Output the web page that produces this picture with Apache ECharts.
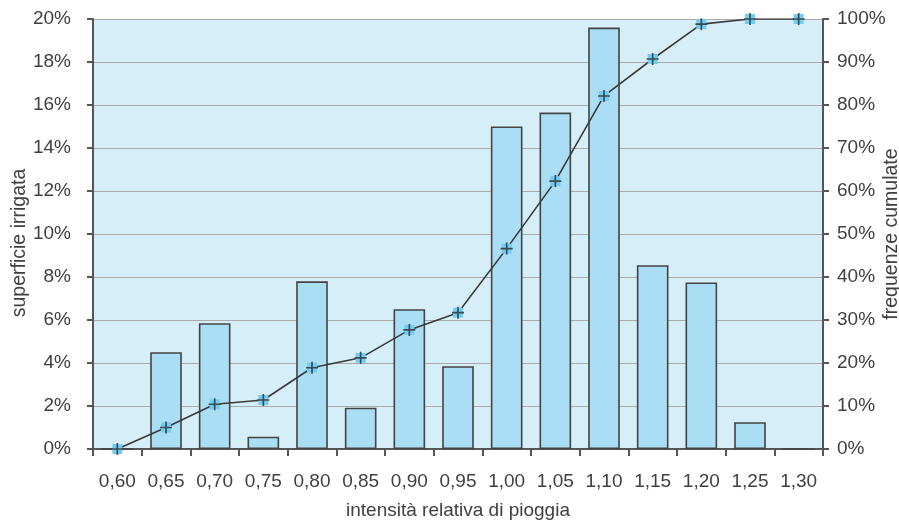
<!DOCTYPE html>
<html>
<head>
<meta charset="utf-8">
<script src="https://cdn.jsdelivr.net/npm/echarts@6/dist/echarts.min.js"></script>
<style>
  html, body { margin: 0; padding: 0; background: #ffffff; }
  #chart { width: 899px; height: 524px; }
</style>
</head>
<body>
<div id="chart"></div>
<script>
// Rainfall intensity classes (relative to mean)
const categories = ['0,60','0,65','0,70','0,75','0,80','0,85','0,90','0,95','1,00','1,05','1,10','1,15','1,20','1,25','1,30'];
// Share of irrigated surface per class (%)
const surfaceShare = [0, 4.5, 5.85, 0.57, 7.8, 1.92, 6.5, 3.85, 15.0, 15.65, 19.6, 8.55, 7.75, 1.25, 0];
// Cumulative frequency (%)
const cumulative = [0, 5.0, 10.4, 11.4, 18.9, 21.2, 27.7, 31.7, 46.6, 62.3, 82.1, 90.7, 98.8, 100, 100];

const FONT = 'Liberation Sans, Arial, Helvetica, sans-serif';
const TEXT = '#404040';
const AXIS = '#555555';
const plusPath = 'path://M4.3,0H5.7V4.3H10V5.7H5.7V10H4.3V5.7H0V4.3H4.3Z';

const chart = echarts.init(document.getElementById('chart'), null, { renderer: 'canvas' });
chart.setOption({
  animation: false,
  backgroundColor: '#ffffff',
  grid: {
    left: 93, right: 76, top: 19, bottom: 75,
    containLabel: false,
    outerBoundsMode: 'none',
    show: true, backgroundColor: '#d6eef8', borderWidth: 0
  },
  xAxis: {
    type: 'category',
    data: categories,
    boundaryGap: true,
    name: 'intensità relativa di pioggia',
    nameLocation: 'middle',
    nameGap: 52,
    nameMoveOverlap: false,
    nameTextStyle: { color: TEXT, fontSize: 19, fontFamily: FONT },
    axisLine: { lineStyle: { color: AXIS, width: 2 } },
    axisTick: { show: true, length: 7, alignWithLabel: false, lineStyle: { color: AXIS, width: 2 } },
    axisLabel: { color: TEXT, fontSize: 19, fontFamily: FONT, margin: 23 },
    splitLine: { show: false }
  },
  yAxis: [
    {
      type: 'value',
      min: 0, max: 20, interval: 2,
      position: 'left',
      name: 'superficie irrigata',
      nameLocation: 'middle',
      nameRotate: 90,
      nameGap: 63,
      nameMoveOverlap: false,
      nameTextStyle: { color: TEXT, fontSize: 19.5, fontFamily: FONT, padding: [0, 18, 0, 0] },
      axisLine: { show: true, lineStyle: { color: AXIS, width: 2 } },
      axisTick: { show: true, length: 6, lineStyle: { color: AXIS, width: 2 } },
      axisLabel: { color: TEXT, fontSize: 19, fontFamily: FONT, margin: 22, formatter: '{value}%' },
      splitLine: { show: true, lineStyle: { color: '#aaaaaa', width: 1.2 } }
    },
    {
      type: 'value',
      min: 0, max: 100, interval: 10,
      position: 'right',
      name: 'frequenze cumulate',
      nameLocation: 'middle',
      nameRotate: 90,
      nameGap: 59,
      nameMoveOverlap: false,
      nameTextStyle: { color: TEXT, fontSize: 19.5, fontFamily: FONT },
      axisLine: { show: true, lineStyle: { color: AXIS, width: 2 } },
      axisTick: { show: true, length: 6, lineStyle: { color: AXIS, width: 2 } },
      axisLabel: { color: TEXT, fontSize: 19, fontFamily: FONT, margin: 14, formatter: '{value}%' },
      splitLine: { show: false }
    }
  ],
  series: [
    {
      name: 'superficie irrigata',
      type: 'bar',
      yAxisIndex: 0,
      data: surfaceShare,
      barWidth: '65%',
      itemStyle: { color: '#a9def4', borderColor: '#444444', borderWidth: 1.6 }
    },
    {
      name: 'frequenze cumulate',
      type: 'line',
      yAxisIndex: 1,
      data: cumulative,
      lineStyle: { color: '#3a3a3a', width: 1.6 },
      symbol: 'rect',
      symbolSize: 10,
      itemStyle: { color: '#72cdf0', borderWidth: 0 },
      z: 3
    },
    {
      name: 'marcatori',
      type: 'scatter',
      yAxisIndex: 1,
      data: cumulative,
      symbol: plusPath,
      symbolSize: 12,
      itemStyle: { color: '#2a2a2a' },
      z: 4
    }
  ]
});
</script>
</body>
</html>
